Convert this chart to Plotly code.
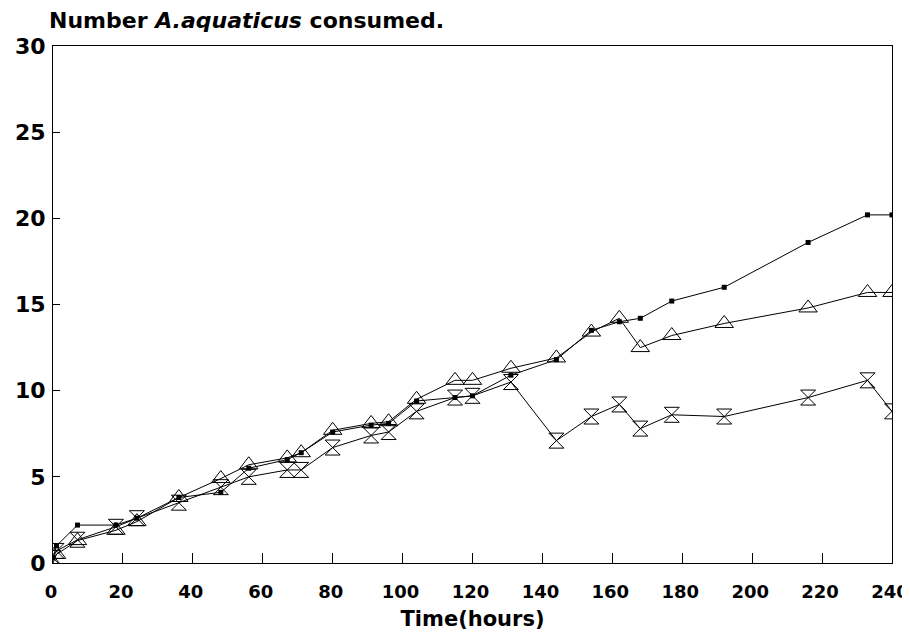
import plotly.graph_objects as go

times = [0, 1, 7, 18, 24, 36, 48, 56, 67, 71, 80, 91, 96, 104, 115, 120, 131, 144, 154, 162, 168, 177, 192, 216, 233, 240]
square_vals = [0.3, 1.0, 2.2, 2.2, 2.6, 3.8, 4.1, 5.5, 6.0, 6.4, 7.6, 8.0, 8.1, 9.4, 9.6, 9.7, 10.9, 11.8, 13.5, 14.0, 14.2, 15.2, 16.0, 18.6, 20.2, 20.2]
triangle_vals = [0.0, 0.5, 1.3, 1.9, 2.4, 3.8, 4.9, 5.7, 6.1, 6.4, 7.7, 8.1, 8.2, 9.5, 10.6, 10.6, 11.3, 11.9, 13.4, 14.2, 12.5, 13.2, 13.9, 14.8, 15.7, 15.7]
hourglass_vals = [0.3, 0.7, 1.35, 2.1, 2.6, 3.5, 4.4, 5.0, 5.4, 5.4, 6.7, 7.4, 7.6, 8.8, 9.6, 9.7, 10.5, 7.1, 8.5, 9.2, 7.8, 8.6, 8.5, 9.6, 10.6, 8.8]

x_ticks = list(range(0, 241, 20))
y_ticks = [0, 5, 10, 15, 20, 25, 30]

FONT = "DejaVu Sans"

fig = go.Figure()
fig.add_trace(go.Scatter(x=times, y=triangle_vals, mode="lines+markers",
                         line=dict(color="black", width=1),
                         marker=dict(symbol="triangle-up-open", size=16, color="black", line=dict(width=1))))
fig.add_trace(go.Scatter(x=times, y=hourglass_vals, mode="lines+markers",
                         line=dict(color="black", width=1),
                         marker=dict(symbol="hourglass-open", size=15, color="black", line=dict(width=1))))
fig.add_trace(go.Scatter(x=times, y=square_vals, mode="lines+markers",
                         line=dict(color="black", width=1),
                         marker=dict(symbol="square", size=5, color="black")))

# page body adds an 8px offset, so the figure is sized to compensate
fig.update_layout(
    width=902, height=625,
    margin=dict(l=45, r=18, t=38, b=70, autoexpand=False),
    paper_bgcolor="white", plot_bgcolor="white",
    showlegend=False,
    font=dict(family=FONT, color="black"),
    annotations=[dict(
        text="<b>Number <i>A.aquaticus</i> consumed.</b>",
        xref="paper", yref="paper", x=0, xshift=-6, y=1.0, yshift=26,
        xanchor="left", yanchor="middle", showarrow=False,
        font=dict(family=FONT, size=22, color="black"))],
)
fig.update_xaxes(
    range=[0, 240], tickvals=x_ticks, ticktext=[f"<b>{v}</b>" for v in x_ticks],
    ticks="inside", ticklen=10, tickcolor="black", tickwidth=1,
    showline=True, linecolor="black", linewidth=1, mirror=True,
    showgrid=False, zeroline=False, automargin=False,
    ticklabelstandoff=12, ticklabeloverflow="allow", ticklabelshift=-2,
    tickfont=dict(family=FONT, size=18, color="black"),
    title=dict(text="<b>Time(hours)</b>", font=dict(family=FONT, size=21, color="black"), standoff=10),
)
fig.update_yaxes(
    range=[0, 30], tickvals=y_ticks, ticktext=[f"<b>{v}</b>" for v in y_ticks],
    ticks="inside", ticklen=7, tickcolor="black", tickwidth=1,
    showline=True, linecolor="black", linewidth=1, mirror=True,
    showgrid=False, zeroline=False, automargin=False,
    ticklabelstandoff=2,
    tickfont=dict(family=FONT, size=22, color="black"),
)

fig.write_html("out.html")
